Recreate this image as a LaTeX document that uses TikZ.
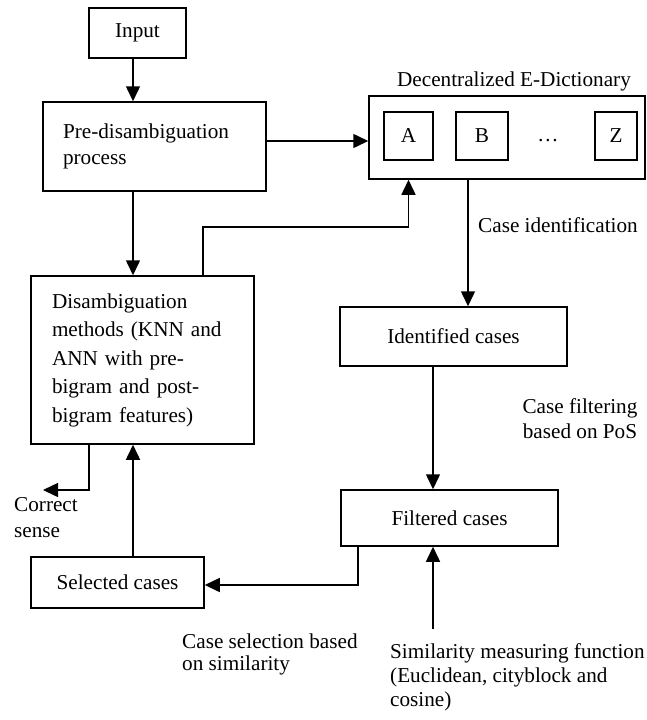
\documentclass[tikz,border=0pt]{standalone}
\usepackage{fontspec}
\setmainfont{Liberation Serif}
\usetikzlibrary{arrows.meta}

\begin{document}
\begin{tikzpicture}[x=1pt, y=-1pt,
  box/.style={draw, line width=1.5pt, inner sep=0pt},
  lbl/.style={inner sep=0pt, align=left},
  arr/.style={line width=1.5pt, -{Triangle[length=15pt,width=14pt]}},
  font=\fontsize{21.2}{26}\selectfont]
  \useasboundingbox (0,0) rectangle (646,720);

  % Boxes
  \node[box, minimum width=97pt, minimum height=50pt] (input) at (137.5,33) {Input};
  \node[box, minimum width=223pt, minimum height=89pt, inner xsep=20pt, text width=183pt, align=left] (pre) at (154.5,146.5) {Pre-disambiguation\\process};
  \node[box, minimum width=276pt, minimum height=83pt] (dict) at (507,137.5) {};
  \node[box, minimum width=49pt, minimum height=48pt] (a) at (408.5,136) {A};
  \node[box, minimum width=52pt, minimum height=48pt] (b) at (482,136) {B};
  \node[inner sep=0pt] (dots) at (548,141) {\dots};
  \node[box, minimum width=42pt, minimum height=48pt] (z) at (616,136) {Z};
  \node[box, minimum width=223pt, minimum height=168pt, inner xsep=21pt, text width=181pt, align=left, font=\fontsize{21.2}{28.5}\selectfont] (dis) at (142.5,360) {Disambiguation\\methods (KNN and\\ANN with pre-\\bigram and post-\\bigram features)};
  \node[box, minimum width=227pt, minimum height=59pt] (ident) at (453.5,336.5) {Identified cases};
  \node[box, minimum width=217pt, minimum height=56pt] (filt) at (449.5,518) {Filtered cases};
  \node[box, minimum width=173pt, minimum height=51pt] (sel) at (117.5,582.5) {Selected cases};

  % Labels
  \node[lbl, anchor=north] (dlab) at (514,72) {Decentralized E-Dictionary};
  \node[lbl, anchor=north] (cid) at (558,217) {Case identification};
  \node[lbl, anchor=north, align=center, font=\fontsize{21.2}{25}\selectfont] (cfil) at (580,398) {Case filtering\\based on PoS};
  \node[lbl, anchor=north west] (cor) at (14,497) {Correct\\sense};
  \node[lbl, anchor=north west, font=\fontsize{21.2}{22}\selectfont] (csel) at (182,634) {Case selection based\\on similarity};
  \node[lbl, anchor=north west, font=\fontsize{21.2}{24}\selectfont] (sim) at (390,643) {Similarity measuring function\\(Euclidean, cityblock and\\cosine)};

  % Connectors
  \coordinate (spine) at (133,0);
  \coordinate (idcol) at (468,0);
  \coordinate (fcol) at (433,0);
  \coordinate (fb) at (203,227);
  \coordinate (outcol) at (358,585);
  \coordinate (cscol) at (89,0);
  \coordinate (cs) at (43,490);

  \draw[arr] (input.south -| spine) -- (pre.north -| spine);
  \draw[arr] ([yshift=5.5pt]pre.east) -- ([yshift=5.5pt]pre.east -| dict.west);
  \draw[arr] (pre.south -| spine) -- (dis.north -| spine);
  \draw[arr] (dis.north -| fb) -- (fb) -| (a |- dict.south);
  \draw[arr] (dict.south -| idcol) -- (ident.north -| idcol);
  \draw[arr] (ident.south -| fcol) -- (filt.north -| fcol);
  \draw[arr] (filt.south -| outcol) -- (outcol) -- (outcol -| sel.east);
  \draw[arr] (sel.north -| spine) -- (dis.south -| spine);
  \draw[arr] (dis.south -| cscol) |- (cs);
  \draw[arr, shorten <=14pt] (sim.north -| fcol) -- (filt.south -| fcol);
\end{tikzpicture}
\end{document}
